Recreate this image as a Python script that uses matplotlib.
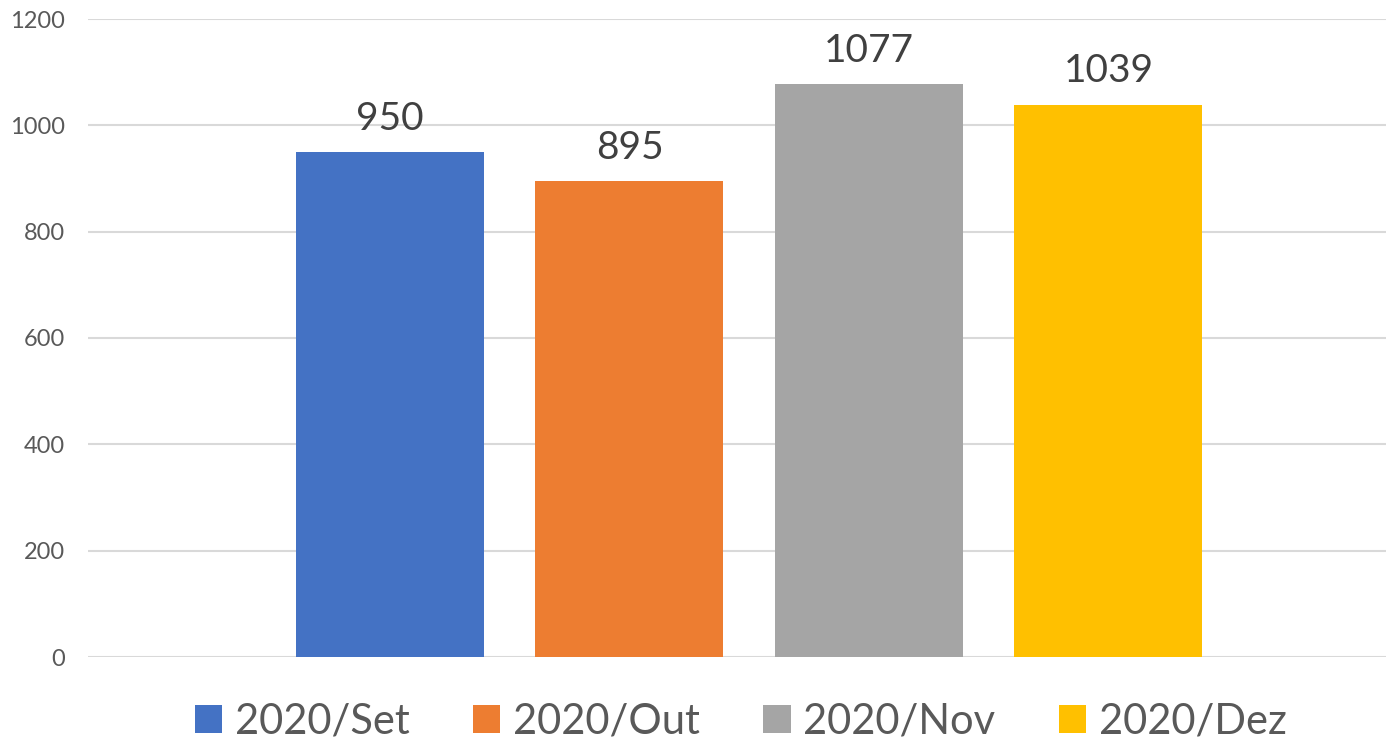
import matplotlib
matplotlib.use("Agg")
import matplotlib.pyplot as plt
from matplotlib.patches import Patch

series = ["2020/Set", "2020/Out", "2020/Nov", "2020/Dez"]
values = [950, 895, 1077, 1039]
colors = ["#4472C4", "#ED7D31", "#A5A5A5", "#FFC000"]
yticks = [0, 200, 400, 600, 800, 1000, 1200]

plt.rcParams['font.family'] = ['Lato', 'DejaVu Sans']
W, H = 1386, 747
fig = plt.figure(figsize=(W / 100, H / 100), dpi=100)
ax = fig.add_axes([88 / W, (H - 657) / H, 1 - 88 / W, (657 - 19) / H])

x = list(range(len(series)))
bw = 0.785
bars = ax.bar(x, values, width=bw, color=colors, zorder=3)
for xi, v in zip(x, values):
    ax.annotate(str(v), (xi, v), xytext=(0, 11), textcoords="offset points",
                ha="center", va="bottom", fontsize=28, color="#404040")

ax.set_xlim(-1.261, 4.159)
ax.set_ylim(0, 1200)
ax.set_yticks(yticks)
ax.set_yticklabels([str(t) for t in yticks])
ax.tick_params(axis='y', length=0, pad=16.5, labelsize=17, labelcolor="#595959")
ax.set_xticks([])
ax.grid(axis='y', color="#D9D9D9", linewidth=1.5, zorder=0)
for s in ax.spines.values():
    s.set_visible(False)

handles = [Patch(facecolor=c, label=s) for c, s in zip(colors, series)]
fig.legend(handles=handles, loc="center", bbox_to_anchor=(741 / W, 1 - 722 / H),
           ncol=4, frameon=False, fontsize=30, labelcolor="#595959",
           handlelength=0.65, handleheight=0.65, handletextpad=0.31, columnspacing=1.52)

fig.savefig("out.png", dpi=100)
